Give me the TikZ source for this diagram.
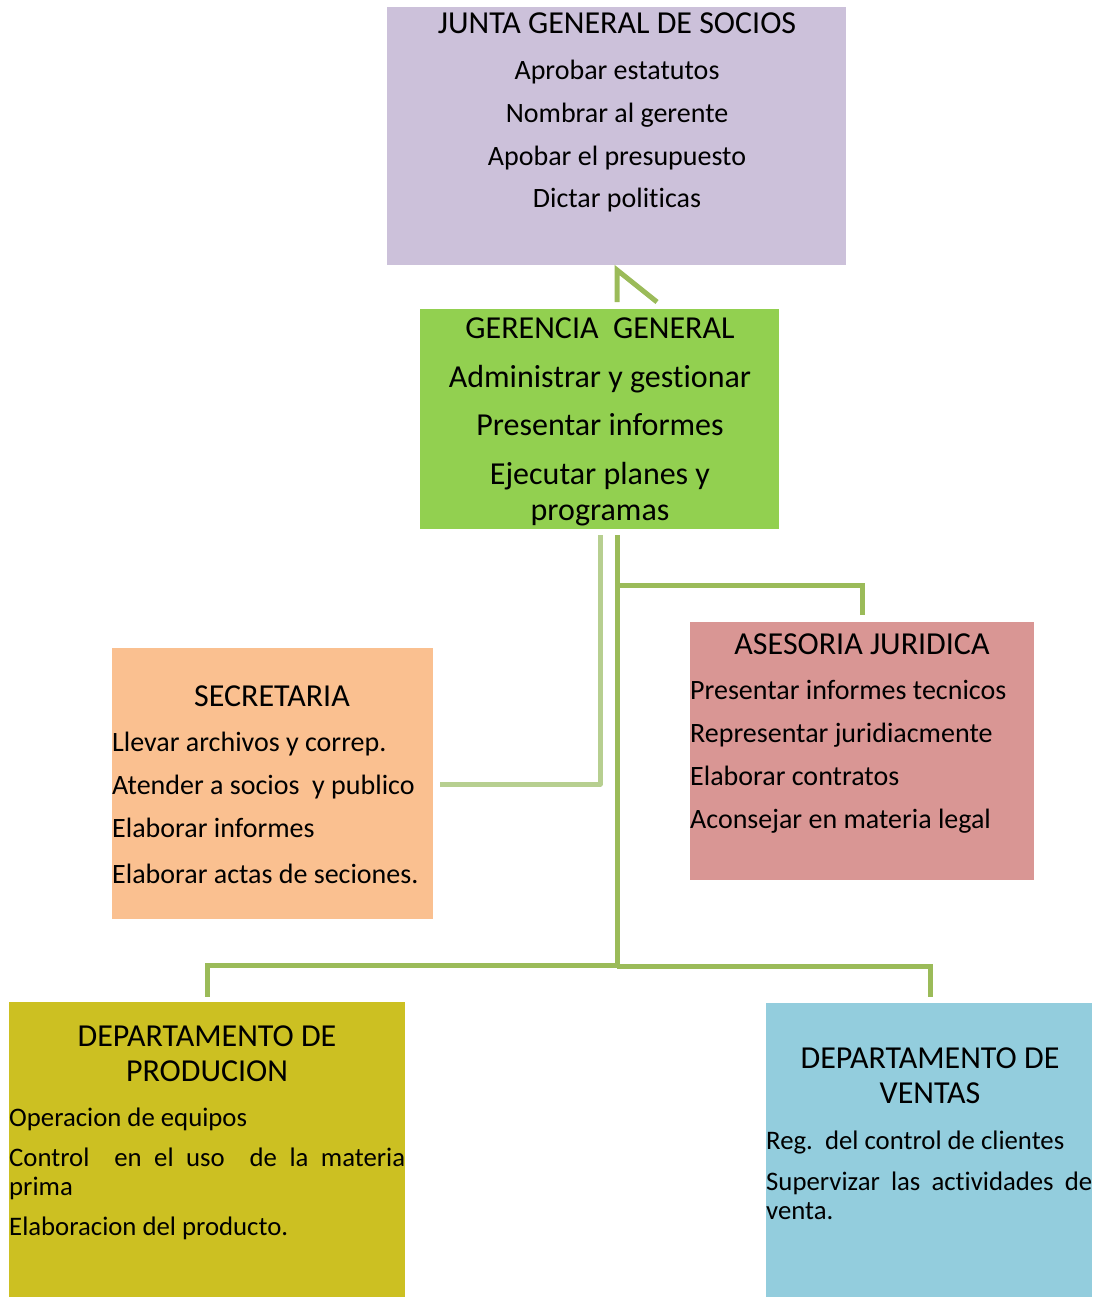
\documentclass[tikz,border=0pt]{standalone}
\usepackage{fontspec}
\setmainfont[Ligatures=CommonOff]{Carlito}
\definecolor{cjunta}{HTML}{CCC1DA}
\definecolor{cger}{HTML}{92D050}
\definecolor{csec}{HTML}{FAC090}
\definecolor{cases}{HTML}{D99694}
\definecolor{cprod}{HTML}{CCC022}
\definecolor{cvent}{HTML}{93CDDD}
\definecolor{cline}{HTML}{9BBB59}
\definecolor{clight}{HTML}{B7CF90}
\tikzset{
  box/.style={draw=none,inner sep=0pt,anchor=north west},
  body/.style={inner sep=0pt,anchor=base,font=\fontsize{28}{34}\selectfont},
  bodyl/.style={inner sep=0pt,anchor=base west,font=\fontsize{28}{34}\selectfont},
  bodys/.style={inner sep=0pt,anchor=base west,font=\fontsize{26.75}{32}\selectfont},
  ttl/.style={inner sep=0pt,anchor=base,font=\fontsize{32}{38}\selectfont},
  conn/.style={draw=cline,line width=5pt},
  connl/.style={draw=clight,line width=5pt},
}
\begin{document}
\begin{tikzpicture}[x=1pt,y=-1pt]
\useasboundingbox (0,0) rectangle (1103,1297);
% boxes
\node[box,fill=cjunta,minimum width=459pt,minimum height=258pt] (junta) at (387,7) {};
\node[box,fill=cger,minimum width=359pt,minimum height=220pt] (ger) at (420,309) {};
\node[box,fill=csec,minimum width=321pt,minimum height=271pt] (sec) at (112,648) {};
\node[box,fill=cases,minimum width=344pt,minimum height=258pt] (ases) at (690,622) {};
\node[box,fill=cprod,minimum width=396pt,minimum height=295pt] (prod) at (9,1002) {};
\node[box,fill=cvent,minimum width=326pt,minimum height=294pt] (vent) at (766,1003) {};
% junta text
\node[ttl] (j0) at (617,34) {JUNTA GENERAL DE SOCIOS};
\node[body] (j1) at (617,80) {Aprobar estatutos};
\node[body] (j2) at (617,123) {Nombrar al gerente};
\node[body] (j3) at (617,166) {Apobar el presupuesto};
\node[body] (j4) at (617,208) {Dictar politicas};
% gerencia text
\node[ttl] (g0) at (600,338) {GERENCIA\ \ GENERAL};
\node[ttl] (g1) at (600,387) {Administrar y gestionar};
\node[ttl] (g2) at (600,435) {Presentar informes};
\node[ttl] (g3) at (600,484) {Ejecutar planes y};
\node[ttl] (g4) at (600,520) {programas};
% secretaria
\node[ttl] (s0) at (272,706) {SECRETARIA};
\node[bodyl] (s1) at (112,751) {Llevar archivos y correp.};
\node[bodyl] (s2) at (112,794) {Atender a socios\ \ y publico};
\node[bodyl] (s3) at (112,837) {Elaborar informes};
\node[bodyl] (s4) at (112,883) {Elaborar actas de seciones.};
% asesoria
\node[ttl] (a0) at (862,654) {ASESORIA JURIDICA};
\node[bodyl] (a1) at (690,699) {Presentar informes tecnicos};
\node[bodyl] (a2) at (690,742) {Representar juridiacmente};
\node[bodyl] (a3) at (690,785) {Elaborar contratos};
\node[bodyl] (a4) at (690,828) {Aconsejar en materia legal};
% produccion
\node[ttl] (p0) at (207,1046) {DEPARTAMENTO DE};
\node[ttl] (p1) at (207,1081) {PRODUCION};
\node[bodys] (p2) at (9,1126) {Operacion de equipos};
\node[bodys] (p3) at (9,1166) {\makebox[396pt][s]{Control\ \ en el uso\ \ de la materia}};
\node[bodys] (p4) at (9,1195) {prima};
\node[bodys] (p5) at (9,1235) {Elaboracion del producto.};
% ventas
\node[ttl] (v0) at (930,1068) {DEPARTAMENTO DE};
\node[ttl] (v1) at (930,1103) {VENTAS};
\node[bodys] (v2) at (766,1149) {Reg.\ \ del control de clientes};
\node[bodys] (v3) at (766,1190) {\makebox[326pt][s]{Supervizar las actividades de}};
\node[bodys] (v4) at (766,1219) {venta.};
% connector coordinates
\coordinate (jg1) at (617,302);
\coordinate (jg2) at (617,270);
\coordinate (jg3) at (657,302);
\coordinate (st) at (600,535);
\coordinate (sc) at (600,784);
\coordinate (se) at (440,784);
\coordinate (tt) at (617,535);
\coordinate (tb) at (617,965);
\coordinate (ab) at (617,585);
\coordinate (ac) at (862,585);
\coordinate (ae) at (862,615);
\coordinate (pc) at (207,965);
\coordinate (pe) at (207,997);
\coordinate (vc) at (930,966);
\coordinate (ve) at (930,997);
\coordinate (vb) at (617,966);
% connectors
\draw[conn] (jg1) -- (jg2) -- (jg3);
\draw[connl,line join=round] (st) -- (sc) -- (se);
\draw[conn] (tt) -- (tb);
\draw[conn] (ab) -- (ac) -- (ae);
\draw[conn] (tb) -- (pc) -- (pe);
\draw[conn] (vb) -- (vc) -- (ve);
\end{tikzpicture}
\end{document}
